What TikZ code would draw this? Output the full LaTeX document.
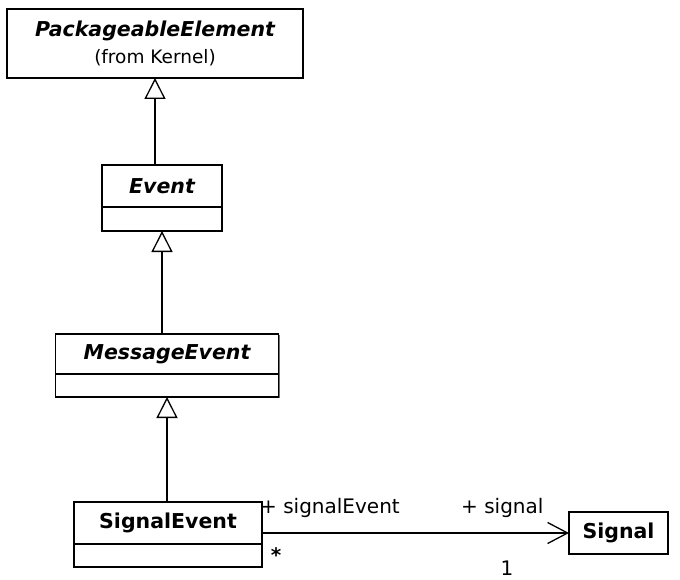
\documentclass[tikz,border=0pt]{standalone}
\usepackage{fontspec}
\setmainfont{DejaVu Sans}
\usetikzlibrary{positioning,arrows.meta,shadows}

\begin{document}
\begin{tikzpicture}[x=1pt, y=-1pt,
        classbox/.style={draw, line width=1.3pt, fill=white, inner sep=0pt, outer sep=0pt,
            drop shadow={shadow xshift=1.3pt, shadow yshift=-1.3pt, fill=black!70, opacity=0.8}},
        plainbox/.style={draw, line width=1.3pt, fill=white, inner sep=0pt, outer sep=0pt},
        abstractname/.style={font=\fontsize{20.5}{27}\selectfont\bfseries\itshape},
        classname/.style={font=\fontsize{20.5}{24}\selectfont\bfseries},
        rolelabel/.style={font=\fontsize{20}{24}\selectfont, inner sep=0pt},
        gen/.style={-{Triangle[open, length=21pt, width=21pt, line width=1.3pt]}, line width=1.4pt},
        assoc/.style={-{Straight Barb[length=20pt, width=21pt, line width=1.3pt]}, line width=1.3pt}]

    \useasboundingbox (0,0) rectangle (680,580);

    % Classes
    \node[classbox, minimum width=296pt, minimum height=69pt, align=center,
          font=\fontsize{18.5}{27}\selectfont] (pkgElem) at (155, 43.5)
        {{\fontsize{20.5}{27}\selectfont\bfseries\itshape PackageableElement}\\
         (from Kernel)};

    \node[classbox, abstractname, minimum width=120pt, minimum height=42pt] (event) at (162, 186) {Event};
    \node[classbox, minimum width=120pt, minimum height=24pt, below=0pt of event] (eventAttr) {};

    \node[classbox, abstractname, minimum width=223pt, minimum height=40pt] (msgEvent) at (167, 354) {MessageEvent};
    \node[classbox, minimum width=223pt, minimum height=23pt, below=0pt of msgEvent] (msgEventAttr) {};

    \node[classbox, classname, minimum width=188pt, minimum height=42pt] (sigEvent) at (168, 523) {SignalEvent};
    \node[classbox, minimum width=188pt, minimum height=23pt, below=0pt of sigEvent] (sigEventAttr) {};

    \node[plainbox, classname, minimum width=99pt, minimum height=42pt] (signal) at (618.5, 533) {Signal};

    % Generalizations
    \draw[gen] (event.north -| pkgElem.south) -- (pkgElem.south);
    \draw[gen] (msgEvent.north -| eventAttr.south) -- (eventAttr.south);
    \draw[gen] (sigEvent.north -| msgEventAttr.south) -- (msgEventAttr.south);

    % Association
    \draw[assoc] (signal.west -| sigEvent.east) -- (signal.west);

    % Role names and multiplicities
    \node[rolelabel, anchor=base west] (roleSigEvent) at (260, 513) {+ signalEvent};
    \node[rolelabel, anchor=base west] (roleSignal) at (461, 513) {+ signal};
    \node[rolelabel, anchor=base, font=\fontsize{20}{24}\selectfont\bfseries] (multSigEvent) at (276, 562) {*};
    \node[rolelabel, anchor=base] (multSignal) at (507, 575) {1};

\end{tikzpicture}
\end{document}
